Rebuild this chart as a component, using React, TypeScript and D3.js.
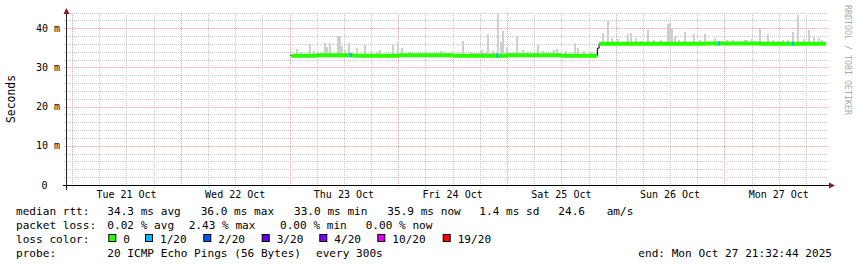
import React from "react";
import * as d3 from "d3";

// ---------- data ----------
const BASE = Date.UTC(2025, 9, 23, 0, 0, 0); // hours below are offsets from Thu 23 Oct 00:00
const START = new Date("2025-10-20T22:52:00Z");
const END = new Date("2025-10-27T22:52:00Z");

const yMajorTicks = [0, 10, 20, 30, 40];
const yTickLabels = ["0", "10 m", "20 m", "30 m", "40 m"];

// median rtt (hours, ms) – before and after the step
const medianSeg1: [number, number][] = [
  [0.35, 33.0], [6, 33.1], [14, 33.0], [24, 33.1], [36, 33.0], [48, 33.1], [60, 33.0], [67.9, 33.1],
];
const medianStep: [number, number][] = [[0.15, 33.0], [67.95, 34.9]];
const medianSeg2: [number, number][] = [
  [68.33, 36.0], [80, 36.0], [92, 36.1], [104, 36.0], [118.4, 36.0],
];

// smoke spikes (hours, max ms)
const smokeSpikes: [number, number][] = [
  [1.7, 34.7], [2.5, 34.0], [4.5, 35.9], [5.5, 34.2], [7.8, 36.3], [8.3, 35.3], [8.9, 36.3],
  [10.75, 38.0], [11.2, 38.0], [11.6, 35.4], [12.3, 34.5], [13.1, 36.3], [14.95, 35.0],
  [16.65, 35.8], [18.0, 34.0], [19.2, 33.9], [20.0, 34.5], [22.8, 35.7], [24.0, 36.1],
  [24.8, 35.0], [26.5, 34.0], [30.0, 33.9], [33.5, 34.2], [38.3, 36.8], [40.0, 34.0],
  [42.4, 34.4], [43.7, 38.6], [45.0, 34.3], [46.1, 43.5], [46.6, 36.4], [47.2, 39.4],
  [47.95, 35.3], [50.15, 38.0], [51.6, 34.4], [52.5, 34.0], [54.9, 35.7], [56.0, 34.2],
  [58.4, 34.4], [59.0, 34.6], [61.0, 34.1], [62.95, 36.1], [63.7, 35.0], [65.0, 34.2],
  [66.5, 34.0],
  [69.2, 38.8], [70.2, 41.8], [71.1, 37.4], [72.5, 37.2], [74.8, 38.5], [75.3, 38.7],
  [76.5, 37.5], [77.5, 36.8], [79.2, 39.5], [80.5, 37.0], [82.0, 37.0], [83.6, 41.0],
  [84.0, 41.4], [84.4, 40.0], [85.2, 38.0], [86.0, 36.9], [87.3, 39.0], [89.3, 38.5],
  [90.5, 37.0], [91.8, 38.5], [93.95, 37.4], [95.2, 36.8], [96.5, 37.0], [98.0, 36.9],
  [99.0, 36.8], [100.6, 37.0], [101.0, 36.9], [102.0, 37.3], [103.9, 40.0], [105.6, 38.5],
  [106.8, 37.0], [108.0, 36.8], [109.0, 36.9], [110.0, 37.0], [111.2, 38.9], [112.3, 43.4],
  [113.5, 37.2], [114.6, 39.5], [115.7, 37.8], [116.9, 37.4], [117.5, 36.9],
];

// thin smoke fringe above the median (startHour, endHour, top ms)
const smokeFringe: [number, number, number][] = [
  [7, 25, 33.6], [40, 52, 33.6], [68.4, 118.4, 36.6],
];

// packet-loss points on the median (hours, loss index)
const lossPoints: [number, number][] = [[13.5, 1], [45.7, 1], [94.7, 1], [111.2, 1]];

const lossLabels = ["0", "1/20", "2/20", "3/20", "4/20", "10/20", "19/20"];
const lossColors = ["#26ff00", "#00b8ff", "#0059ff", "#5e00ff", "#7e00ff", "#dd00ff", "#ff0000"];

const rttLegend = ["34.3 ms avg", "36.0 ms max", "33.0 ms min", "35.9 ms now", "1.4 ms sd", "24.6", "am/s"];
const lossLegend = ["0.02 % avg", "2.43 % max", "0.00 % min", "0.00 % now"];
const probeText = ["20 ICMP Echo Pings (56 Bytes)", "every 300s"];
const endText = "end: Mon Oct 27 21:32:44 2025";

// ---------- layout ----------
const W = 857, H = 267;
const X0 = 67, X1 = 828, Y0 = 185, YTOP = 12.5;
const rttX = [107.3, 200.7, 294, 387.3, 479.3, 558.3, 606.7];
const lossX = [107.3, 188.7, 280, 365.7];
const boxX = [108.3, 145, 203.3, 261.7, 319.3, 377.3, 442.7];
const probeX = [107.3, 316];
const MONO = "'DejaVu Sans Mono', monospace";

const hr = (h: number) => new Date(BASE + h * 3600e3);

export default function App() {
  const x = d3.scaleUtc().domain([START, END]).range([X0, X1]);
  const y = d3.scaleLinear().domain([0, 44]).range([Y0, YTOP]);

  const minor6h = d3.utcHour.every(6)!.range(START, END).filter((d) => d.getUTCHours() !== 0);
  const days = d3.utcDay.range(START, END);
  const noonLabels = days.map((d) => d3.utcHour.offset(d, 12)).filter((d) => d < END);
  const fmt = d3.utcFormat("%a %d %b");

  const yMinor = d3.range(2, 45, 2).filter((v) => v % 10 !== 0);

  const allMedian = [medianStep[0], ...medianSeg1, medianStep[1], ...medianSeg2].sort((a, b) => a[0] - b[0]);
  const medianAt = (h: number) => {
    const i = d3.bisector((d: [number, number]) => d[0]).right(allMedian, h) - 1;
    return allMedian[Math.max(0, i)][1];
  };

  const line = d3
    .line<[number, number]>()
    .x((d) => x(hr(d[0])))
    .y((d) => y(d[1]))
    .curve(d3.curveStepAfter);
  const band = d3
    .area<[number, number]>()
    .x((d) => x(hr(d[0])))
    .y0((d) => y(d[1]) + 2)
    .y1((d) => y(d[1]) - 2)
    .curve(d3.curveStepAfter);

  const legendLineY = [215, 229, 243, 257];
  const arrowColor = "#8b1c1c";

  return (
    <svg width={W} height={H} style={{ position: "absolute", left: 0, top: 0, background: "#fff" }}
      fontFamily={MONO}>
      <rect x={0} y={0} width={W} height={H} fill="#ffffff" />

      {/* minor grid */}
      <g stroke="#c8c8c8" strokeWidth={1} strokeDasharray="1,1" shapeRendering="crispEdges">
        {yMinor.map((v) => (
          <line key={"ym" + v} x1={64} x2={X1} y1={Math.round(y(v)) + 0.5} y2={Math.round(y(v)) + 0.5} />
        ))}
        {minor6h.map((d, i) => (
          <line key={"xm" + i} x1={Math.round(x(d)) + 0.5} x2={Math.round(x(d)) + 0.5} y1={13} y2={188} />
        ))}
      </g>
      {/* major grid */}
      <g stroke="#eba8a8" strokeWidth={1} strokeDasharray="1,1" shapeRendering="crispEdges">
        {yMajorTicks.filter((v) => v > 0).map((v) => (
          <line key={"yM" + v} x1={64} x2={X1} y1={Math.round(y(v)) + 0.5} y2={Math.round(y(v)) + 0.5} />
        ))}
        {days.map((d, i) => (
          <line key={"xM" + i} x1={Math.round(x(d)) + 0.5} x2={Math.round(x(d)) + 0.5} y1={13} y2={188} />
        ))}
      </g>

      {/* smoke fringe */}
      <g fill="#d4d4d4" shapeRendering="crispEdges">
        {smokeFringe.map(([a, b, top], i) => {
          const mid = medianAt(a);
          return (
            <rect key={"f" + i} x={x(hr(a))} width={x(hr(b)) - x(hr(a))}
              y={y(top)} height={Math.max(0, y(mid) - 2 - y(top))} />
          );
        })}
      </g>
      {/* smoke spikes */}
      <g fill="#cfcfcf" shapeRendering="crispEdges">
        {smokeSpikes.map(([h, v], i) => {
          const mid = medianAt(h);
          const top = y(v);
          const bottom = y(mid) - 1;
          return (
            <rect key={"s" + i} x={Math.round(x(hr(h))) - 1} width={2} y={top} height={Math.max(0, bottom - top)} />
          );
        })}
      </g>

      {/* median line */}
      <path d={line(allMedian) || ""} fill="none" stroke="#000" strokeWidth={1} />
      {/* loss-colour band */}
      <path d={band(medianSeg1) || ""} fill={lossColors[0]} />
      <path d={band(medianSeg2) || ""} fill={lossColors[0]} />
      {lossPoints.map(([h, l], i) => {
        const mid = medianAt(h);
        return (
          <rect key={"l" + i} x={Math.round(x(hr(h))) - 1} width={2} y={y(mid) - 2} height={4}
            fill={lossColors[l]} />
        );
      })}

      {/* axes */}
      <line x1={63} x2={831} y1={Y0 + 0.5} y2={Y0 + 0.5} stroke="#000" strokeWidth={1} shapeRendering="crispEdges" />
      <line x1={X0 - 0.5} x2={X0 - 0.5} y1={190} y2={11} stroke="#222" strokeWidth={1} shapeRendering="crispEdges" />
      <path d={`M${X1 + 1},${Y0 - 2.5} L${X1 + 7},${Y0 + 0.5} L${X1 + 1},${Y0 + 3.5} Z`} fill={arrowColor} />
      <path d={`M${X0 - 3.5},${14} L${X0 - 0.5},${8} L${X0 + 2.5},${14} Z`} fill={arrowColor} />

      {/* y tick labels */}
      <g fontSize={10} fill="#000" textAnchor="end">
        {yMajorTicks.map((v, i) => (
          <text key={"yl" + v} x={v === 0 ? 47.5 : 60} y={y(v) + 3.5}>{yTickLabels[i]}</text>
        ))}
      </g>
      {/* x tick labels */}
      <g fontSize={10} fill="#000" textAnchor="middle">
        {noonLabels.map((d, i) => (
          <text key={"xl" + i} x={x(d)} y={198}>{fmt(d)}</text>
        ))}
      </g>

      {/* y axis title */}
      <text transform="translate(15,99) rotate(-90)" fontSize={11.4} textAnchor="middle" fill="#000">Seconds</text>
      {/* watermark */}
      <text transform="translate(845,5) rotate(90)" fontSize={8.3} fill="#aaaaaa">RRDTOOL / TOBI OETIKER</text>

      {/* legend */}
      <g fontSize={11.1} fill="#000">
        <text x={16} y={legendLineY[0]}>median rtt:</text>
        {rttLegend.map((t, i) => (
          <text key={"r" + i} x={rttX[i]} y={legendLineY[0]}>{t}</text>
        ))}
        <text x={16} y={legendLineY[1]}>packet loss:</text>
        {lossLegend.map((t, i) => (
          <text key={"p" + i} x={lossX[i]} y={legendLineY[1]}>{t}</text>
        ))}
        <text x={16} y={legendLineY[2]}>loss color:</text>
        {lossLabels.map((t, i) => (
          <g key={"lc" + i}>
            <rect x={boxX[i] + 0.5} y={234.5} width={7} height={7} fill={lossColors[i]} stroke="#000" strokeWidth={1} />
            <text x={boxX[i] + 15} y={legendLineY[2]}>{t}</text>
          </g>
        ))}
        <text x={16} y={legendLineY[3]}>probe:</text>
        {probeText.map((t, i) => (
          <text key={"pr" + i} x={probeX[i]} y={legendLineY[3]}>{t}</text>
        ))}
        <text x={638.3} y={legendLineY[3]}>{endText}</text>
      </g>
    </svg>
  );
}
